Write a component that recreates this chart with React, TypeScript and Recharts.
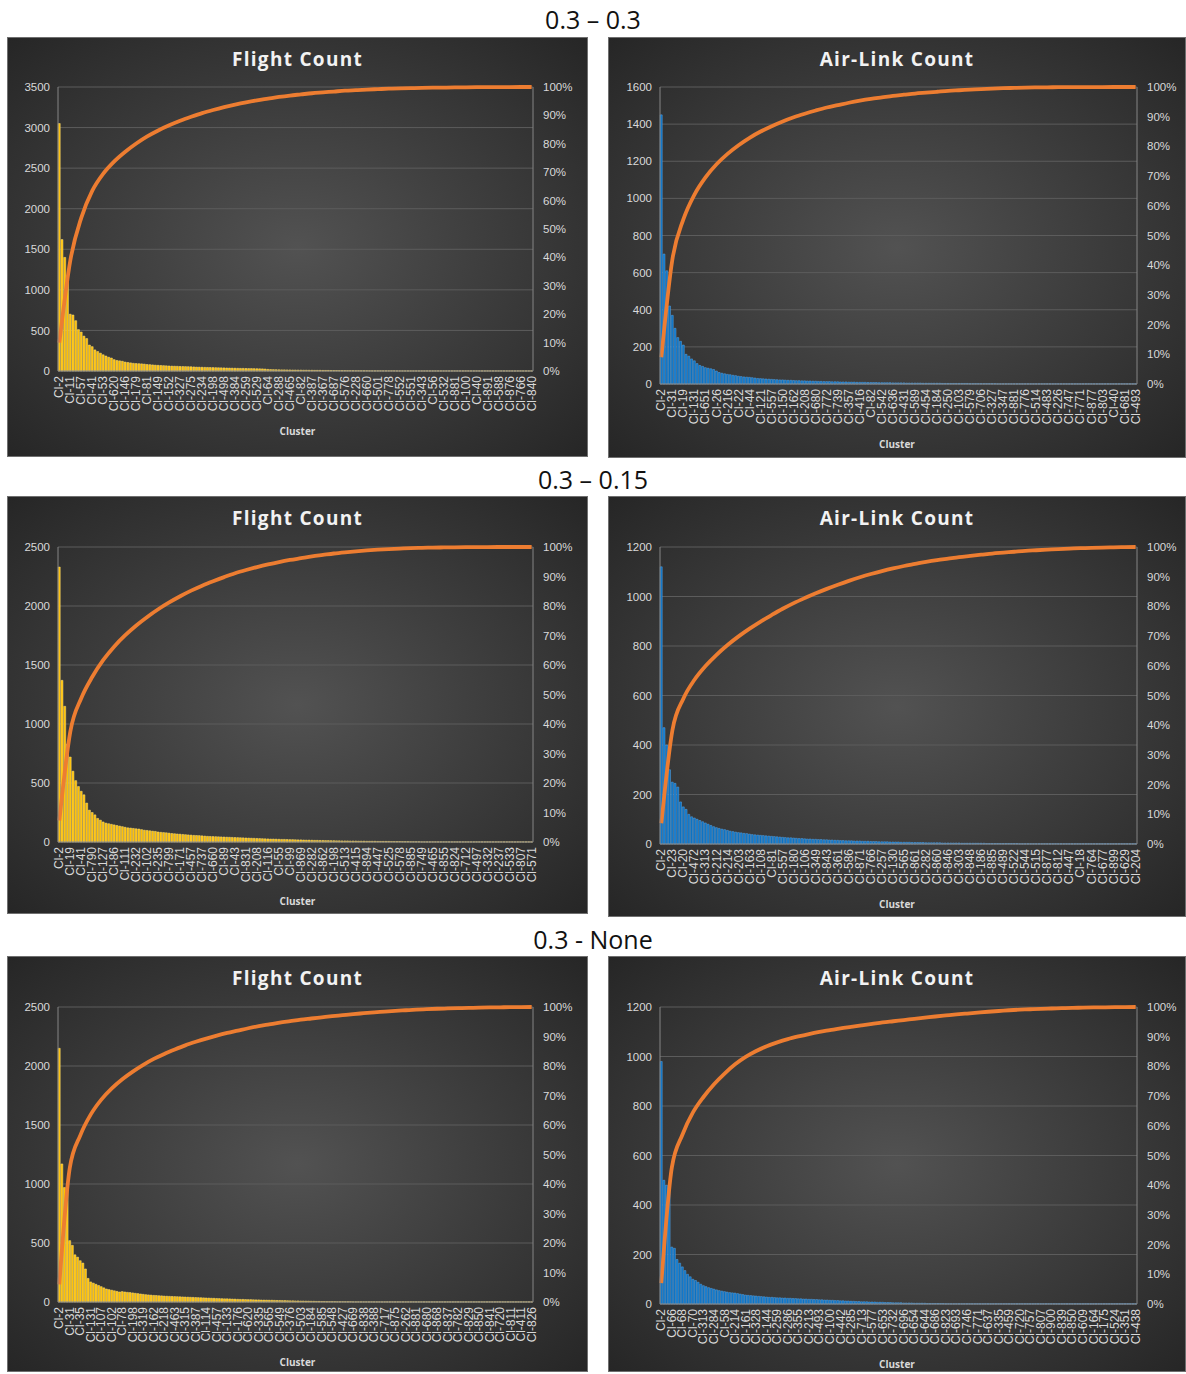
import React from 'react';
import { ComposedChart, Bar, Line, XAxis, YAxis, CartesianGrid } from 'recharts';

// every 4th cluster carries a visible label (and a cumulative % reading)
const STEP = 4;

const pctTicks = [0, 10, 20, 30, 40, 50, 60, 70, 80, 90, 100];

// ---------- 0.3 – 0.3 ----------
const flight33Labels = ['Cl-2', 'Cl-11', 'Cl-57', 'Cl-41', 'Cl-53', 'Cl-620', 'Cl-146', 'Cl-179', 'Cl-81', 'Cl-149', 'Cl-152', 'Cl-327', 'Cl-275', 'Cl-234', 'Cl-198', 'Cl-498', 'Cl-384', 'Cl-259', 'Cl-529', 'Cl-64', 'Cl-288', 'Cl-465', 'Cl-82', 'Cl-387', 'Cl-367', 'Cl-687', 'Cl-576', 'Cl-228', 'Cl-660', 'Cl-501', 'Cl-778', 'Cl-552', 'Cl-551', 'Cl-343', 'Cl-56', 'Cl-532', 'Cl-881', 'Cl-100', 'Cl-40', 'Cl-891', 'Cl-588', 'Cl-876', 'Cl-766', 'Cl-840'];
const flight33Counts = [
  3050, 1620, 1400, 1130, 700, 690, 620, 510, 480, 430, 400, 320, 300, 260, 240, 220,
  200, 185, 170, 160, 140, 130, 125, 120, 110, 105, 100, 95, 92, 90, 88, 85,
  80, 78, 75, 72, 70, 68, 66, 64, 62, 60, 59, 58, 56, 55, 54, 53,
  52, 50, 48, 47, 46, 45, 44, 43, 42, 41, 40, 39, 38, 37, 36, 35,
  34, 33, 32, 32, 31, 30, 30, 29, 28, 27, 26, 24, 20, 18, 17, 16,
  15, 14, 14, 13, 13, 12, 12, 11, 11, 10, 10, 9, 9, 8, 8, 8,
  7, 7, 7, 6, 6, 6, 5, 5, 5, 4, 4, 4, 3, 3, 3, 3,
  3, 2, 2, 2, 2, 2, 2, 2, 2, 2, 2, 1, 1, 1, 1, 1,
  1, 1, 1, 1, 1, 1, 1, 1, 1, 1, 1, 1, 1, 1, 1, 1,
  1, 1, 1, 1, 1, 1, 1, 1, 1, 1, 1, 1, 1, 1, 1, 1,
  1, 1, 1, 1, 1, 1, 1, 1, 1, 1, 1, 1, 1,
];
const flight33Cum = [10, 39, 54, 63.5, 69.5, 73.8, 77.2, 80.1, 82.6, 84.7, 86.5, 88.1, 89.5, 90.8, 91.9, 92.9, 93.8, 94.6, 95.3, 95.9, 96.5, 97, 97.4, 97.8, 98.1, 98.4, 98.7, 98.9, 99.1, 99.25, 99.4, 99.5, 99.6, 99.7, 99.75, 99.8, 99.85, 99.9, 99.93, 99.95, 99.97, 99.99, 100, 100];
const flight33Ticks = [0, 500, 1000, 1500, 2000, 2500, 3000, 3500];

const air33Labels = ['Cl-2', 'Cl-31', 'Cl-19', 'Cl-131', 'Cl-651', 'Cl-26', 'Cl-216', 'Cl-22', 'Cl-44', 'Cl-121', 'Cl-557', 'Cl-150', 'Cl-162', 'Cl-208', 'Cl-680', 'Cl-772', 'Cl-739', 'Cl-357', 'Cl-416', 'Cl-82', 'Cl-542', 'Cl-636', 'Cl-431', 'Cl-589', 'Cl-454', 'Cl-184', 'Cl-250', 'Cl-103', 'Cl-579', 'Cl-706', 'Cl-327', 'Cl-347', 'Cl-881', 'Cl-776', 'Cl-514', 'Cl-483', 'Cl-226', 'Cl-747', 'Cl-771', 'Cl-877', 'Cl-803', 'Cl-40', 'Cl-681', 'Cl-493'];
const air33Counts = [
  1450, 700, 610, 420, 370, 300, 250, 230, 210, 160, 150, 135, 125, 110, 100, 95,
  88, 85, 82, 78, 70, 62, 58, 55, 52, 50, 47, 45, 42, 40, 38, 37,
  36, 34, 32, 30, 29, 28, 27, 26, 25, 24, 23, 22, 22, 21, 20, 20,
  19, 18, 18, 17, 17, 16, 16, 15, 15, 14, 14, 13, 13, 13, 12, 12,
  12, 11, 11, 11, 10, 10, 10, 9, 9, 9, 9, 8, 8, 8, 8, 7,
  7, 7, 7, 7, 6, 6, 6, 6, 6, 5, 5, 5, 5, 5, 5, 4,
  4, 4, 4, 4, 4, 4, 3, 3, 3, 3, 3, 3, 3, 3, 3, 3,
  2, 2, 2, 2, 2, 2, 2, 2, 2, 2, 1, 1, 1, 1, 1, 1,
  1, 1, 1, 1, 1, 1, 1, 1, 1, 1, 1, 1, 1, 1, 1, 1,
  1, 1, 1, 1, 1, 1, 1, 1, 1, 1, 1, 1, 1, 1, 1, 1,
  1, 1, 1, 1, 1, 1, 1, 1, 1, 1, 1, 1, 1,
];
const air33Cum = [9, 42, 55.5, 63.8, 69.6, 74, 77.5, 80.4, 82.9, 85, 86.8, 88.4, 89.8, 91, 92.1, 93.1, 93.9, 94.7, 95.4, 96, 96.5, 97, 97.4, 97.8, 98.1, 98.4, 98.7, 98.9, 99.1, 99.3, 99.45, 99.6, 99.7, 99.8, 99.85, 99.9, 99.93, 99.95, 99.97, 99.98, 99.99, 100, 100, 100];
const air33Ticks = [0, 200, 400, 600, 800, 1000, 1200, 1400, 1600];

// ---------- 0.3 – 0.15 ----------
const flight315Labels = ['Cl-2', 'Cl-19', 'Cl-41', 'Cl-790', 'Cl-127', 'Cl-86', 'Cl-111', 'Cl-232', 'Cl-102', 'Cl-235', 'Cl-799', 'Cl-171', 'Cl-457', 'Cl-737', 'Cl-660', 'Cl-89', 'Cl-43', 'Cl-831', 'Cl-208', 'Cl-116', 'Cl-55', 'Cl-99', 'Cl-869', 'Cl-282', 'Cl-862', 'Cl-198', 'Cl-513', 'Cl-415', 'Cl-894', 'Cl-447', 'Cl-525', 'Cl-578', 'Cl-885', 'Cl-749', 'Cl-465', 'Cl-855', 'Cl-824', 'Cl-712', 'Cl-497', 'Cl-332', 'Cl-237', 'Cl-533', 'Cl-807', 'Cl-571'];
const flight315Counts = [
  2330, 1370, 1150, 830, 720, 600, 520, 470, 430, 400, 330, 270, 250, 230, 200, 185,
  170, 160, 155, 150, 145, 140, 135, 130, 125, 120, 118, 115, 112, 110, 105, 100,
  98, 95, 92, 90, 85, 82, 80, 78, 75, 72, 70, 68, 66, 64, 62, 60,
  58, 56, 55, 54, 52, 50, 48, 47, 46, 45, 44, 43, 42, 41, 40, 39,
  38, 37, 36, 35, 34, 33, 32, 31, 30, 29, 28, 27, 26, 25, 25, 24,
  23, 22, 22, 21, 20, 20, 19, 18, 18, 17, 16, 16, 15, 14, 14, 13,
  13, 12, 12, 11, 11, 10, 10, 9, 9, 9, 8, 8, 8, 7, 7, 7,
  6, 6, 6, 6, 5, 5, 5, 5, 5, 4, 4, 4, 4, 3, 3, 3,
  2, 2, 2, 2, 1, 1, 1, 1, 1, 1, 1, 1, 1, 1, 1, 1,
  1, 1, 1, 1, 1, 1, 1, 1, 1, 1, 1, 1, 1, 1, 1, 1,
  1, 1, 1, 1, 1, 1, 1, 1, 1, 1, 1, 1, 1,
];
const flight315Cum = [7.3, 37.5, 48.8, 56, 61.7, 66.3, 70.1, 73.4, 76.3, 78.9, 81.2, 83.3, 85.2, 86.9, 88.4, 89.8, 91.1, 92.2, 93.2, 94.1, 94.9, 95.6, 96.2, 96.8, 97.3, 97.8, 98.2, 98.55, 98.85, 99.1, 99.3, 99.45, 99.6, 99.7, 99.8, 99.85, 99.9, 99.93, 99.96, 99.98, 100, 100, 100, 100];
const flight315Ticks = [0, 500, 1000, 1500, 2000, 2500];

const air315Labels = ['Cl-2', 'Cl-23', 'Cl-20', 'Cl-472', 'Cl-313', 'Cl-212', 'Cl-214', 'Cl-203', 'Cl-163', 'Cl-108', 'Cl-81', 'Cl-557', 'Cl-180', 'Cl-106', 'Cl-349', 'Cl-843', 'Cl-361', 'Cl-586', 'Cl-871', 'Cl-766', 'Cl-257', 'Cl-130', 'Cl-565', 'Cl-861', 'Cl-282', 'Cl-860', 'Cl-846', 'Cl-303', 'Cl-848', 'Cl-186', 'Cl-885', 'Cl-489', 'Cl-522', 'Cl-544', 'Cl-515', 'Cl-877', 'Cl-812', 'Cl-447', 'Cl-18', 'Cl-764', 'Cl-677', 'Cl-899', 'Cl-629', 'Cl-204'];
const air315Counts = [
  1120, 470, 400, 300, 250, 245, 230, 170, 150, 140, 120, 110, 105, 100, 95, 90,
  85, 80, 75, 70, 66, 63, 60, 58, 55, 52, 50, 48, 46, 45, 43, 42,
  40, 38, 37, 36, 35, 34, 33, 32, 31, 30, 29, 28, 27, 26, 25, 25,
  24, 23, 22, 22, 21, 20, 20, 19, 19, 18, 18, 17, 17, 16, 16, 15,
  15, 14, 14, 13, 13, 13, 12, 12, 12, 11, 11, 11, 10, 10, 10, 9,
  9, 9, 9, 8, 8, 8, 8, 7, 7, 7, 7, 6, 6, 6, 6, 6,
  5, 5, 5, 5, 5, 5, 4, 4, 4, 4, 4, 4, 4, 3, 3, 3,
  3, 3, 3, 3, 3, 3, 2, 2, 2, 2, 2, 2, 2, 2, 2, 2,
  2, 2, 1, 1, 1, 1, 1, 1, 1, 1, 1, 1, 1, 1, 1, 1,
  1, 1, 1, 1, 1, 1, 1, 1, 1, 1, 1, 1, 1, 1, 1, 1,
  1, 1, 1, 1, 1, 1, 1, 1, 1, 1, 1, 1, 1,
];
const air315Cum = [7, 38.3, 49, 55.3, 59.9, 63.7, 67, 69.9, 72.5, 74.9, 77.1, 79.2, 81.1, 82.8, 84.4, 85.9, 87.3, 88.6, 89.8, 90.9, 91.9, 92.8, 93.6, 94.3, 95, 95.6, 96.1, 96.6, 97, 97.4, 97.8, 98.1, 98.4, 98.7, 98.9, 99.1, 99.3, 99.45, 99.6, 99.7, 99.8, 99.9, 99.95, 100];
const air315Ticks = [0, 200, 400, 600, 800, 1000, 1200];

// ---------- 0.3 - None ----------
const flightNoneLabels = ['Cl-2', 'Cl-31', 'Cl-35', 'Cl-131', 'Cl-107', 'Cl-102', 'Cl-78', 'Cl-198', 'Cl-319', 'Cl-162', 'Cl-218', 'Cl-463', 'Cl-315', 'Cl-387', 'Cl-114', 'Cl-457', 'Cl-133', 'Cl-176', 'Cl-620', 'Cl-335', 'Cl-565', 'Cl-549', 'Cl-376', 'Cl-503', 'Cl-184', 'Cl-585', 'Cl-548', 'Cl-427', 'Cl-669', 'Cl-838', 'Cl-388', 'Cl-717', 'Cl-875', 'Cl-262', 'Cl-881', 'Cl-680', 'Cl-868', 'Cl-837', 'Cl-782', 'Cl-829', 'Cl-850', 'Cl-841', 'Cl-720', 'Cl-811', 'Cl-411', 'Cl-826'];
const flightNoneCounts = [
  2150, 1170, 970, 940, 520, 480, 400, 380, 350, 330, 280, 200, 170, 160, 150, 140,
  130, 120, 110, 105, 100, 95, 90, 85, 88, 85, 82, 80, 77, 74, 71, 68,
  65, 62, 60, 58, 56, 55, 53, 52, 50, 49, 48, 47, 46, 45, 44, 43,
  42, 41, 40, 39, 38, 37, 36, 35, 34, 33, 32, 31, 30, 29, 28, 27,
  27, 26, 25, 24, 23, 22, 22, 21, 20, 20, 19, 18, 18, 17, 16, 16,
  15, 15, 14, 13, 13, 12, 12, 11, 10, 10, 9, 9, 8, 8, 7, 7,
  6, 6, 5, 5, 4, 4, 3, 3, 3, 3, 2, 2, 2, 2, 2, 2,
  1, 1, 1, 1, 1, 1, 1, 1, 1, 1, 1, 1, 1, 1, 1, 1,
  1, 1, 1, 1, 1, 1, 1, 1, 1, 1, 1, 1, 1, 1, 1, 1,
  1, 1, 1, 1, 1, 1, 1, 1, 1, 1, 1, 1, 1, 1, 1, 1,
  1, 1, 1, 1, 1, 1, 1, 1, 1, 1, 1, 1, 1, 1, 1, 1,
  1, 1, 1, 1, 1,
];
const flightNoneCum = [6, 45.5, 56.5, 63.6, 68.6, 72.4, 75.5, 78.1, 80.4, 82.4, 84.1, 85.6, 87, 88.2, 89.3, 90.3, 91.2, 92, 92.8, 93.5, 94.1, 94.7, 95.2, 95.7, 96.1, 96.5, 96.9, 97.25, 97.6, 97.9, 98.2, 98.45, 98.7, 98.9, 99.1, 99.25, 99.4, 99.5, 99.6, 99.7, 99.78, 99.85, 99.9, 99.95, 99.98, 100];
const flightNoneTicks = [0, 500, 1000, 1500, 2000, 2500];

const airNoneLabels = ['Cl-2', 'Cl-66', 'Cl-68', 'Cl-70', 'Cl-313', 'Cl-284', 'Cl-58', 'Cl-214', 'Cl-161', 'Cl-328', 'Cl-144', 'Cl-259', 'Cl-286', 'Cl-355', 'Cl-213', 'Cl-493', 'Cl-100', 'Cl-442', 'Cl-285', 'Cl-713', 'Cl-577', 'Cl-653', 'Cl-732', 'Cl-696', 'Cl-654', 'Cl-644', 'Cl-686', 'Cl-823', 'Cl-693', 'Cl-746', 'Cl-771', 'Cl-637', 'Cl-335', 'Cl-459', 'Cl-720', 'Cl-757', 'Cl-807', 'Cl-900', 'Cl-839', 'Cl-850', 'Cl-609', 'Cl-164', 'Cl-175', 'Cl-524', 'Cl-351', 'Cl-438'];
const airNoneCounts = [
  980, 500, 480, 470, 230, 225, 180, 165, 150, 135, 120, 110, 100, 95, 88, 80,
  74, 70, 66, 63, 60, 57, 54, 52, 50, 48, 46, 45, 44, 42, 40, 38,
  36, 35, 34, 33, 32, 31, 30, 29, 28, 27, 27, 26, 25, 25, 24, 24,
  23, 23, 22, 22, 21, 21, 20, 20, 19, 19, 18, 18, 17, 17, 16, 16,
  15, 15, 14, 14, 13, 13, 12, 12, 11, 11, 10, 10, 9, 9, 9, 8,
  8, 8, 7, 7, 7, 6, 6, 6, 5, 5, 5, 5, 4, 4, 4, 4,
  3, 3, 3, 3, 3, 2, 2, 2, 2, 2, 2, 2, 1, 1, 1, 1,
  1, 1, 1, 1, 1, 1, 1, 1, 1, 1, 1, 1, 1, 1, 1, 1,
  1, 1, 1, 1, 1, 1, 1, 1, 1, 1, 1, 1, 1, 1, 1, 1,
  1, 1, 1, 1, 1, 1, 1, 1, 1, 1, 1, 1, 1, 1, 1, 1,
  1, 1, 1, 1, 1, 1, 1, 1, 1, 1, 1, 1, 1, 1, 1, 1,
  1, 1, 1, 1, 1,
];
const airNoneCum = [7, 46, 57, 64.5, 69.7, 74, 77.6, 80.7, 83.2, 85.2, 86.8, 88.1, 89.2, 90.1, 90.9, 91.6, 92.2, 92.8, 93.3, 93.8, 94.3, 94.8, 95.2, 95.6, 96, 96.4, 96.8, 97.15, 97.5, 97.8, 98.1, 98.4, 98.65, 98.9, 99.1, 99.25, 99.4, 99.5, 99.6, 99.7, 99.78, 99.85, 99.9, 99.95, 99.98, 100];
const airNoneTicks = [0, 200, 400, 600, 800, 1000, 1200];

const YELLOW = '#FFC000';
const YELLOW_EDGE = '#FFE07A';
const BLUE = '#0A72C4';
const BLUE_EDGE = '#5DA6E6';
const ORANGE = '#ED7D31';
const TEXT = '#d9d9d9';
const AXIS = '#858585';
const FONT = '"Liberation Sans", Arial, sans-serif';

function buildRows(labels: string[], counts: number[], cum: number[]) {
  return counts.map((v, i) => ({
    name: i % STEP === 0 ? labels[i / STEP] : '',
    count: v,
    cum: i % STEP === 0 ? cum[i / STEP] : null,
  }));
}

const ClusterTick = (props: any) => {
  const { x, y, payload } = props;
  if (!payload || !payload.value) return null;
  return (
    <text x={x} y={y} dy={4} transform={`rotate(-90 ${x} ${y})`} textAnchor="end" fill={TEXT} fontSize={12} fontFamily={FONT}>
      {payload.value}
    </text>
  );
};

interface PanelProps {
  left: number; top: number; w: number; h: number;
  plotTop: number; plotH: number; yl: number; yr: number; clusterY: number;
  title: string; color: string; edge: string;
  labels: string[]; counts: number[]; cum: number[]; ticks: number[];
}

function ParetoPanel(p: PanelProps) {
  const rows = buildRows(p.labels, p.counts, p.cum);
  const max = p.ticks[p.ticks.length - 1];
  return (
    <div style={{
      position: 'absolute', left: p.left, top: p.top, width: p.w, height: p.h,
      background: 'radial-gradient(ellipse at 50% 50%, #525252 0%, #3c3c3c 50%, #262626 100%)',
      boxSizing: 'border-box', border: '1px solid #6f6f6f',
    }}>
      <div style={{ position: 'absolute', top: 8, left: 0, width: '100%', textAlign: 'center', color: '#f2f2f2', fontFamily: '"Open Sans", sans-serif', fontWeight: 700, fontSize: 19, letterSpacing: 1.3 }}>
        {p.title}
      </div>
      <div style={{ position: 'absolute', top: p.clusterY - 7, left: 0, width: '100%', textAlign: 'center', color: TEXT, fontFamily: '"Open Sans", sans-serif', fontWeight: 700, fontSize: 10 }}>
        Cluster
      </div>
      <div style={{ position: 'absolute', left: -1, top: -1 }}>
        <ComposedChart width={p.w} height={p.h} data={rows} barCategoryGap="8%"
          margin={{ top: p.plotTop, right: 0, bottom: 0, left: 0 }}>
          <CartesianGrid vertical={false} stroke="#5c5c5c" yAxisId="count" />
          <XAxis dataKey="name" interval={0} tick={<ClusterTick />} tickLine={false} tickSize={0} tickMargin={5}
            axisLine={{ stroke: AXIS }} height={p.h - p.plotTop - p.plotH} />
          <YAxis yAxisId="count" domain={[0, max]} ticks={p.ticks} width={p.yl} tickLine={false} tickSize={0} tickMargin={8}
            axisLine={{ stroke: AXIS }} tick={{ fill: TEXT, fontSize: 11.5, fontFamily: FONT }} />
          <YAxis yAxisId="pct" orientation="right" domain={[0, 100]} ticks={pctTicks} width={p.yr} tickLine={false} tickSize={0}
            tickMargin={10} axisLine={{ stroke: AXIS }} tickFormatter={(v: number) => `${v}%`}
            tick={{ fill: TEXT, fontSize: 11.5, fontFamily: FONT, textAnchor: 'start' }} />
          <Bar yAxisId="count" dataKey="count" fill={p.color} stroke={p.edge} strokeWidth={0.5} isAnimationActive={false} />
          <Line yAxisId="pct" dataKey="cum" type="monotone" connectNulls stroke={ORANGE} strokeWidth={3.8}
            dot={false} activeDot={false} isAnimationActive={false} />
        </ComposedChart>
      </div>
    </div>
  );
}

const SectionTitle = ({ y, text }: { y: number; text: string }) => (
  <div style={{ position: 'absolute', top: y, left: 0, width: 1186, textAlign: 'center', fontFamily: '"Open Sans", sans-serif', fontSize: 25, color: '#111' }}>
    {text}
  </div>
);

export default function App() {
  return (
    <div style={{ position: 'absolute', left: 0, top: 0, width: 1186, height: 1374, background: '#fff', overflow: 'hidden' }}>
      <SectionTitle y={2} text="0.3 – 0.3" />
      <SectionTitle y={462} text="0.3 – 0.15" />
      <SectionTitle y={922} text="0.3 - None" />

      <ParetoPanel left={7} top={37} w={581} h={420} plotTop={50} plotH={284} yl={51} yr={55} clusterY={393}
        title="Flight Count" color={YELLOW} edge={YELLOW_EDGE} labels={flight33Labels} counts={flight33Counts} cum={flight33Cum} ticks={flight33Ticks} />
      <ParetoPanel left={608} top={37} w={578} h={421} plotTop={50} plotH={297} yl={52} yr={49} clusterY={406}
        title="Air-Link Count" color={BLUE} edge={BLUE_EDGE} labels={air33Labels} counts={air33Counts} cum={air33Cum} ticks={air33Ticks} />

      <ParetoPanel left={7} top={496} w={581} h={418} plotTop={51} plotH={295} yl={51} yr={55} clusterY={404}
        title="Flight Count" color={YELLOW} edge={YELLOW_EDGE} labels={flight315Labels} counts={flight315Counts} cum={flight315Cum} ticks={flight315Ticks} />
      <ParetoPanel left={608} top={496} w={578} h={421} plotTop={51} plotH={297} yl={52} yr={49} clusterY={407}
        title="Air-Link Count" color={BLUE} edge={BLUE_EDGE} labels={air315Labels} counts={air315Counts} cum={air315Cum} ticks={air315Ticks} />

      <ParetoPanel left={7} top={956} w={581} h={416} plotTop={51} plotH={295} yl={51} yr={55} clusterY={405}
        title="Flight Count" color={YELLOW} edge={YELLOW_EDGE} labels={flightNoneLabels} counts={flightNoneCounts} cum={flightNoneCum} ticks={flightNoneTicks} />
      <ParetoPanel left={608} top={956} w={578} h={416} plotTop={51} plotH={297} yl={52} yr={49} clusterY={407}
        title="Air-Link Count" color={BLUE} edge={BLUE_EDGE} labels={airNoneLabels} counts={airNoneCounts} cum={airNoneCum} ticks={airNoneTicks} />
    </div>
  );
}
